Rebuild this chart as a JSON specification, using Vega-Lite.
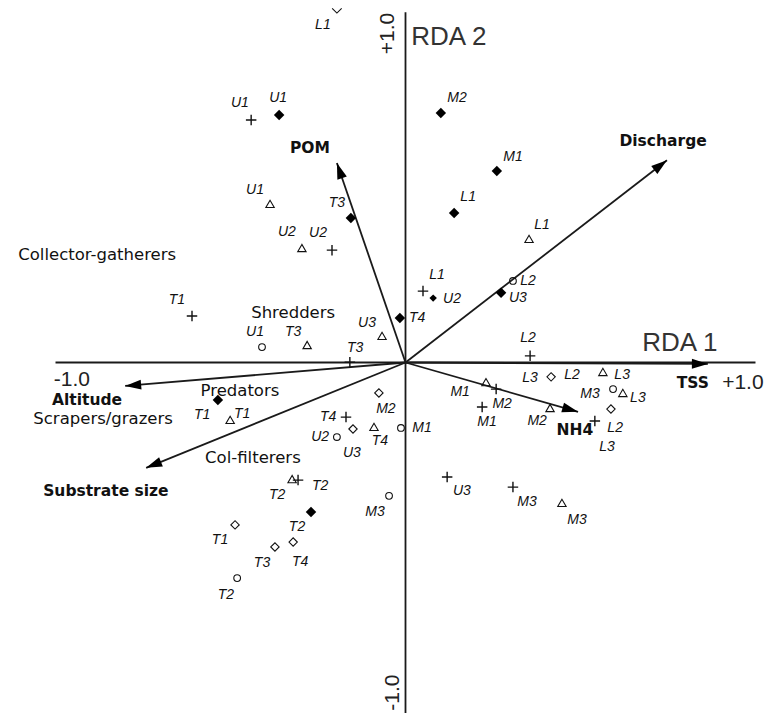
{
  "$schema": "https://vega.github.io/schema/vega-lite/v6.json",
  "width": 769,
  "height": 713,
  "autosize": "none",
  "padding": 0,
  "background": "white",
  "view": {"stroke": null},
  "datasets": {
    "axes": [
      {"x": -1.0, "y": 0, "x2": 1.0, "y2": 0},
      {"x": 0, "y": -1.01, "x2": 0, "y2": 1.001}
    ],
    "ticks": [
      {"v": -1.0}, {"v": -0.9}, {"v": -0.8}, {"v": -0.7}, {"v": -0.6}, {"v": -0.5}, {"v": -0.4}, {"v": -0.3}, {"v": -0.2}, {"v": -0.1},
      {"v": 0.1}, {"v": 0.2}, {"v": 0.3}, {"v": 0.4}, {"v": 0.5}, {"v": 0.6}, {"v": 0.7}, {"v": 0.8}, {"v": 0.9}, {"v": 1.0}
    ],
    "env": [
      {"name": "POM", "x": -0.196, "y": 0.57},
      {"name": "Discharge", "x": 0.747, "y": 0.578},
      {"name": "TSS", "x": 0.864, "y": -0.004},
      {"name": "NH4", "x": 0.493, "y": -0.141},
      {"name": "Altitude", "x": -0.801, "y": -0.067},
      {"name": "Substrate size", "x": -0.741, "y": -0.301}
    ],
    "sites": [
      {"g": "A", "site": "U1", "x": -0.361, "y": 0.707},
      {"g": "A", "site": "M2", "x": 0.101, "y": 0.713},
      {"g": "A", "site": "M1", "x": 0.261, "y": 0.547},
      {"g": "A", "site": "L1", "x": 0.139, "y": 0.427},
      {"g": "A", "site": "T3", "x": -0.156, "y": 0.413},
      {"g": "A", "site": "U3", "x": 0.273, "y": 0.199},
      {"g": "A", "site": "T4", "x": -0.016, "y": 0.127},
      {"g": "A", "site": "T1", "x": -0.536, "y": -0.107},
      {"g": "A", "site": "T2", "x": -0.27, "y": -0.427},
      {"g": "A2", "site": "U2", "x": 0.079, "y": 0.184},
      {"g": "B", "site": "U1", "x": -0.387, "y": 0.453},
      {"g": "B", "site": "L1", "x": 0.353, "y": 0.353},
      {"g": "B", "site": "U2", "x": -0.296, "y": 0.327},
      {"g": "B", "site": "U3", "x": -0.067, "y": 0.076},
      {"g": "B", "site": "T3", "x": -0.281, "y": 0.05},
      {"g": "B", "site": "T1", "x": -0.501, "y": -0.164},
      {"g": "B", "site": "M1", "x": 0.23, "y": -0.056},
      {"g": "B", "site": "T4", "x": -0.09, "y": -0.184},
      {"g": "B", "site": "M2", "x": 0.413, "y": -0.13},
      {"g": "B", "site": "L3", "x": 0.564, "y": -0.027},
      {"g": "B", "site": "L2", "x": 0.621, "y": -0.087},
      {"g": "B", "site": "T2", "x": -0.324, "y": -0.333},
      {"g": "B", "site": "M3", "x": 0.447, "y": -0.401},
      {"g": "C", "site": "U1", "x": -0.441, "y": 0.693},
      {"g": "C", "site": "U2", "x": -0.21, "y": 0.321},
      {"g": "C", "site": "T1", "x": -0.61, "y": 0.133},
      {"g": "C", "site": "L1", "x": 0.05, "y": 0.204},
      {"g": "C", "site": "L2", "x": 0.356, "y": 0.019},
      {"g": "C", "site": "T3", "x": -0.159, "y": 0.001},
      {"g": "C", "site": "M2", "x": 0.259, "y": -0.076},
      {"g": "C", "site": "M1", "x": 0.219, "y": -0.127},
      {"g": "C", "site": "T4", "x": -0.17, "y": -0.156},
      {"g": "C", "site": "L3", "x": 0.541, "y": -0.167},
      {"g": "C", "site": "U3", "x": 0.119, "y": -0.327},
      {"g": "C", "site": "M3", "x": 0.307, "y": -0.356},
      {"g": "C", "site": "T2", "x": -0.307, "y": -0.336},
      {"g": "D", "site": "L1", "x": -0.196, "y": 1.012},
      {"g": "D", "site": "M2", "x": -0.076, "y": -0.087},
      {"g": "D", "site": "U3", "x": -0.15, "y": -0.19},
      {"g": "D", "site": "L2", "x": 0.416, "y": -0.041},
      {"g": "D", "site": "L3", "x": 0.587, "y": -0.133},
      {"g": "D", "site": "T1", "x": -0.487, "y": -0.464},
      {"g": "D", "site": "T3", "x": -0.373, "y": -0.527},
      {"g": "D", "site": "T4", "x": -0.321, "y": -0.513},
      {"g": "E", "site": "L2", "x": 0.307, "y": 0.233},
      {"g": "E", "site": "U1", "x": -0.41, "y": 0.044},
      {"g": "E", "site": "U2", "x": -0.196, "y": -0.213},
      {"g": "E", "site": "M1", "x": -0.013, "y": -0.187},
      {"g": "E", "site": "M3", "x": 0.593, "y": -0.076},
      {"g": "E", "site": "M3", "x": -0.047, "y": -0.381},
      {"g": "E", "site": "T2", "x": -0.481, "y": -0.616}
    ],
    "labels": [
      {"t": "L1", "x": -0.236, "y": 0.964},
      {"t": "U1", "x": -0.473, "y": 0.741},
      {"t": "U1", "x": -0.364, "y": 0.756},
      {"t": "M2", "x": 0.147, "y": 0.756},
      {"t": "M1", "x": 0.307, "y": 0.587},
      {"t": "L1", "x": 0.179, "y": 0.473},
      {"t": "L1", "x": 0.39, "y": 0.393},
      {"t": "L2", "x": 0.35, "y": 0.233},
      {"t": "U3", "x": 0.321, "y": 0.184},
      {"t": "L1", "x": 0.09, "y": 0.25},
      {"t": "U2", "x": 0.133, "y": 0.181},
      {"t": "T4", "x": 0.033, "y": 0.127},
      {"t": "L2", "x": 0.35, "y": 0.07},
      {"t": "U1", "x": -0.43, "y": 0.493},
      {"t": "T3", "x": -0.196, "y": 0.456},
      {"t": "U2", "x": -0.339, "y": 0.373},
      {"t": "U2", "x": -0.25, "y": 0.37},
      {"t": "T1", "x": -0.653, "y": 0.179},
      {"t": "U1", "x": -0.43, "y": 0.087},
      {"t": "T3", "x": -0.321, "y": 0.087},
      {"t": "U3", "x": -0.11, "y": 0.113},
      {"t": "T3", "x": -0.144, "y": 0.041},
      {"t": "T1", "x": -0.581, "y": -0.15},
      {"t": "T1", "x": -0.467, "y": -0.147},
      {"t": "L3", "x": 0.356, "y": -0.044},
      {"t": "M1", "x": 0.156, "y": -0.084},
      {"t": "M2", "x": 0.276, "y": -0.119},
      {"t": "M1", "x": 0.233, "y": -0.17},
      {"t": "M2", "x": -0.056, "y": -0.133},
      {"t": "T4", "x": -0.221, "y": -0.156},
      {"t": "U3", "x": -0.153, "y": -0.259},
      {"t": "U2", "x": -0.244, "y": -0.213},
      {"t": "T4", "x": -0.073, "y": -0.224},
      {"t": "M1", "x": 0.047, "y": -0.187},
      {"t": "U3", "x": 0.161, "y": -0.367},
      {"t": "M3", "x": 0.347, "y": -0.399},
      {"t": "T2", "x": -0.244, "y": -0.353},
      {"t": "T2", "x": -0.367, "y": -0.379},
      {"t": "M3", "x": -0.087, "y": -0.427},
      {"t": "T2", "x": -0.31, "y": -0.47},
      {"t": "L2", "x": 0.476, "y": -0.036},
      {"t": "L3", "x": 0.619, "y": -0.036},
      {"t": "M3", "x": 0.527, "y": -0.09},
      {"t": "L3", "x": 0.664, "y": -0.101},
      {"t": "L2", "x": 0.599, "y": -0.187},
      {"t": "L3", "x": 0.576, "y": -0.241},
      {"t": "M2", "x": 0.376, "y": -0.167},
      {"t": "M3", "x": 0.49, "y": -0.45},
      {"t": "T1", "x": -0.53, "y": -0.507},
      {"t": "T3", "x": -0.41, "y": -0.573},
      {"t": "T4", "x": -0.301, "y": -0.57},
      {"t": "T2", "x": -0.513, "y": -0.664}
    ],
    "groups": [
      {"t": "Collector-gatherers", "x": -0.881, "y": 0.307},
      {"t": "Shredders", "x": -0.321, "y": 0.141},
      {"t": "Predators", "x": -0.473, "y": -0.081},
      {"t": "Scrapers/grazers", "x": -0.864, "y": -0.161},
      {"t": "Col-filterers", "x": -0.436, "y": -0.273}
    ],
    "envlabels": [
      {"t": "POM", "x": -0.273, "y": 0.613},
      {"t": "Discharge", "x": 0.736, "y": 0.633},
      {"t": "Altitude", "x": -0.91, "y": -0.107},
      {"t": "Substrate size", "x": -0.856, "y": -0.367},
      {"t": "TSS", "x": 0.821, "y": -0.059},
      {"t": "NH4", "x": 0.484, "y": -0.193}
    ],
    "rdalabels": [
      {"t": "RDA 1", "x": 0.784, "y": 0.056},
      {"t": "RDA 2", "x": 0.124, "y": 0.931}
    ],
    "numlabels": [
      {"t": "-1.0", "x": -0.953, "y": -0.05},
      {"t": "+1.0", "x": 0.964, "y": -0.059}
    ],
    "vnumlabels": [
      {"t": "+1.0", "x": -0.05, "y": 0.94},
      {"t": "-1.0", "x": -0.036, "y": -0.943}
    ]
  },
  "encoding": {
    "x": {"field": "x", "type": "quantitative", "scale": {"domain": [-1.1586, 1.0386], "nice": false, "zero": false}, "axis": null},
    "y": {"field": "y", "type": "quantitative", "scale": {"domain": [-1.0014, 1.0357], "nice": false, "zero": false}, "axis": null}
  },
  "layer": [
    {
      "data": {"name": "axes"},
      "mark": {"type": "rule", "color": "#1a1a1a", "strokeWidth": 1.8},
      "encoding": {
        "x2": {"field": "x2"},
        "y2": {"field": "y2"}
      }
    },
    {
      "data": {"name": "ticks"},
      "mark": {"type": "point", "shape": "M0,0L0,-1", "size": 49, "filled": false, "color": "#1a1a1a", "strokeWidth": 1, "opacity": 1},
      "encoding": {
        "x": {"field": "v", "type": "quantitative", "axis": null},
        "y": {"datum": 0, "type": "quantitative", "axis": null}
      }
    },
    {
      "data": {"name": "ticks"},
      "mark": {"type": "point", "shape": "M0,0L1,0", "size": 49, "filled": false, "color": "#1a1a1a", "strokeWidth": 1, "opacity": 1},
      "encoding": {
        "x": {"datum": 0, "type": "quantitative", "axis": null},
        "y": {"field": "v", "type": "quantitative", "axis": null}
      }
    },
    {
      "data": {"name": "env"},
      "mark": {"type": "rule", "color": "#1a1a1a", "strokeWidth": 1.8},
      "encoding": {
        "x": {"datum": 0, "type": "quantitative", "axis": null},
        "y": {"datum": 0, "type": "quantitative", "axis": null},
        "x2": {"field": "x"},
        "y2": {"field": "y"}
      }
    },
    {
      "data": {"name": "env"},
      "transform": [{"calculate": "90 - atan2(datum.y, datum.x) * 180 / PI", "as": "angle"}],
      "mark": {"type": "point", "shape": "M0,0L-0.5,1.6L0.5,1.6Z", "size": 400, "filled": true, "color": "#000", "opacity": 1},
      "encoding": {
        "angle": {"field": "angle", "type": "quantitative", "scale": null}
      }
    },
    {
      "data": {"name": "sites"},
      "transform": [{"filter": "datum.g === 'A'"}],
      "mark": {"type": "point", "shape": "diamond", "size": 110, "filled": true, "color": "#000", "opacity": 1}
    },
    {
      "data": {"name": "sites"},
      "transform": [{"filter": "datum.g === 'A2'"}],
      "mark": {"type": "point", "shape": "diamond", "size": 55, "filled": true, "color": "#000", "opacity": 1}
    },
    {
      "data": {"name": "sites"},
      "transform": [{"filter": "datum.g === 'B'"}],
      "mark": {"type": "point", "shape": "triangle-up", "size": 70, "filled": false, "color": "#111", "strokeWidth": 1.1, "opacity": 1}
    },
    {
      "data": {"name": "sites"},
      "transform": [{"filter": "datum.g === 'C'"}],
      "mark": {"type": "point", "shape": "M-1,0L1,0M0,-1L0,1", "size": 110, "filled": false, "color": "#111", "strokeWidth": 1.4, "opacity": 1}
    },
    {
      "data": {"name": "sites"},
      "transform": [{"filter": "datum.g === 'D' && datum.y < 1"}],
      "mark": {"type": "point", "shape": "diamond", "size": 70, "filled": false, "color": "#111", "strokeWidth": 1.1, "opacity": 1}
    },
    {
      "data": {"name": "sites"},
      "transform": [{"filter": "datum.g === 'D' && datum.y >= 1"}],
      "mark": {"type": "point", "shape": "M-1,0L0,1L1,0", "size": 90, "filled": false, "color": "#111", "strokeWidth": 1.1, "opacity": 1}
    },
    {
      "data": {"name": "sites"},
      "transform": [{"filter": "datum.g === 'E'"}],
      "mark": {"type": "point", "shape": "circle", "size": 45, "filled": false, "color": "#111", "strokeWidth": 1.1, "opacity": 1}
    },
    {
      "data": {"name": "labels"},
      "mark": {"type": "text", "font": "Liberation Sans", "fontStyle": "italic", "fontSize": 14, "color": "#111"},
      "encoding": {"text": {"field": "t"}}
    },
    {
      "data": {"name": "groups"},
      "mark": {"type": "text", "font": "DejaVu Sans", "fontSize": 16.5, "color": "#111"},
      "encoding": {"text": {"field": "t"}}
    },
    {
      "data": {"name": "envlabels"},
      "mark": {"type": "text", "font": "DejaVu Sans", "fontWeight": "bold", "fontSize": 15.5, "color": "#111"},
      "encoding": {"text": {"field": "t"}}
    },
    {
      "data": {"name": "rdalabels"},
      "mark": {"type": "text", "font": "Liberation Sans", "fontSize": 26, "color": "#333"},
      "encoding": {"text": {"field": "t"}}
    },
    {
      "data": {"name": "numlabels"},
      "mark": {"type": "text", "font": "Liberation Sans", "fontSize": 21, "color": "#222"},
      "encoding": {"text": {"field": "t"}}
    },
    {
      "data": {"name": "vnumlabels"},
      "mark": {"type": "text", "font": "Liberation Sans", "fontSize": 21, "color": "#222", "angle": 270},
      "encoding": {"text": {"field": "t"}}
    }
  ]
}
